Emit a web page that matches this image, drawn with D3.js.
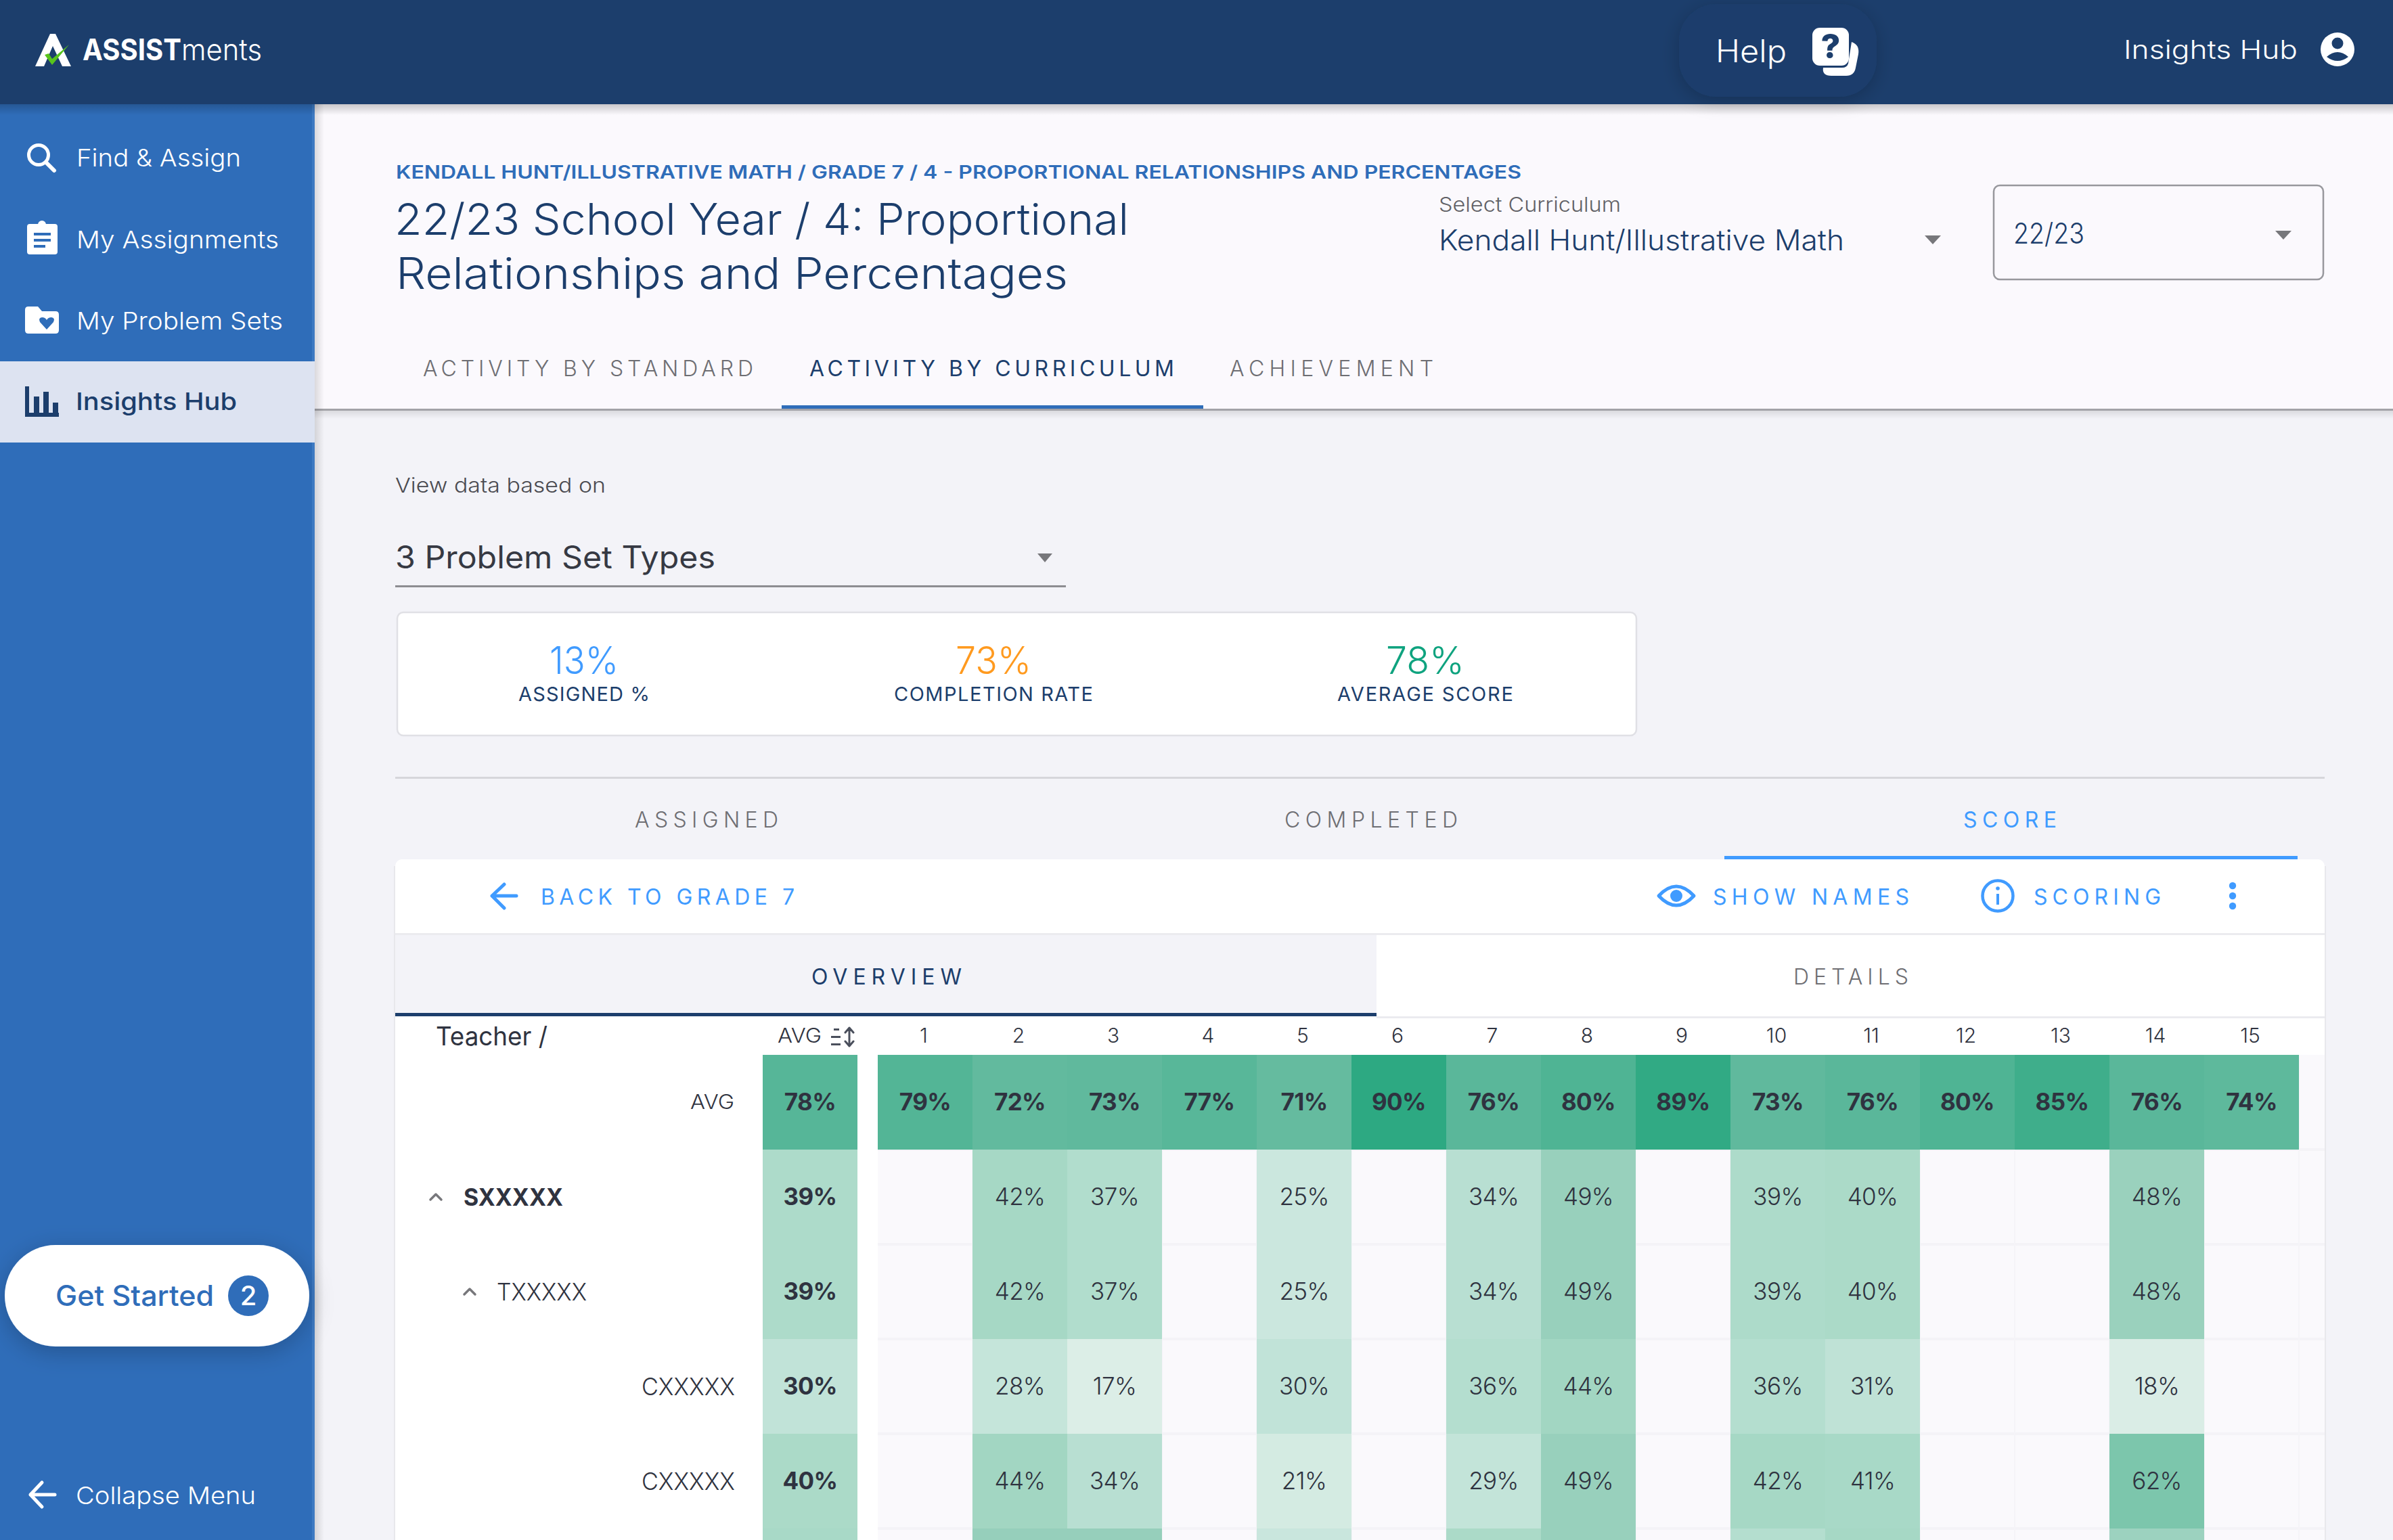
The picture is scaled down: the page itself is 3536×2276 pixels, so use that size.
<!DOCTYPE html>
<html><head><meta charset="utf-8">
<script src="https://cdn.jsdelivr.net/npm/d3@7/dist/d3.min.js"></script>
<style>html,body{margin:0;padding:0;background:#f3f3f8;overflow:hidden}svg{display:block;font-family:Inter,"Open Sans",sans-serif}</style>
</head><body><div id="c"></div>
<script>
// ---- chart data ----
const columnLabels = ["1","2","3","4","5","6","7","8","9","10","11","12","13","14","15"];
const rowKeys = ["AVG","SXXXXX","TXXXXX","CXXXXX-1","CXXXXX-2","NEXT"];
const rowLabels = ["AVG","SXXXXX","TXXXXX","CXXXXX","CXXXXX",""];
const avgColumn = [78,39,39,30,40,41];
const rowAvg  = [79,72,73,77,71,90,76,80,89,73,76,80,85,76,74];
const rowS    = [null,42,37,null,25,null,34,49,null,39,40,null,null,48,null];
const rowT    = [null,42,37,null,25,null,34,49,null,39,40,null,null,48,null];
const rowC1   = [null,28,17,null,30,null,36,44,null,36,31,null,null,18,null];
const rowC2   = [null,44,34,null,21,null,29,49,null,42,41,null,null,62,null];
const rowNext = [null,50,50,null,26,null,40,49,null,36,42,null,null,47,null];
const colorStops = [17,30,42,49,62,72,78,85,90];
const colorRange = ["#dceee7","#c1e3d8","#a6d8c5","#98d0bc","#7cc6ac","#62ba9e","#56b698","#3fae8b","#2da982"];
const kpiValues = ["13%","73%","78%"];
const kpiLabels = ["ASSIGNED %","COMPLETION RATE","AVERAGE SCORE"];

const W=3536,H=2276;
const NAVY="#1c3e6c",BLUE="#2f6db9",SKY="#409bff",INK="#2f3340",GREY="#6e6e73";
const svg=d3.select("#c").append("svg").attr("width",W).attr("height",H).attr("viewBox",[0,0,W,H]);
const defs=svg.append("defs");
function grad(id,x2,y2,a){const g=defs.append("linearGradient").attr("id",id).attr("x1",0).attr("y1",0).attr("x2",x2).attr("y2",y2);
  g.append("stop").attr("offset",0).attr("stop-color","#000").attr("stop-opacity",a);
  g.append("stop").attr("offset",1).attr("stop-color","#000").attr("stop-opacity",0);}
grad("sd",0,1,.2);grad("sr",1,0,.13);grad("sl",0,1,.1);
function shadow(id,dy,blur,a){const f=defs.append("filter").attr("id",id).attr("x","-20%").attr("y","-40%").attr("width","140%").attr("height","190%");
  f.append("feDropShadow").attr("dx",0).attr("dy",dy).attr("stdDeviation",blur).attr("flood-color","#000").attr("flood-opacity",a);}
shadow("pill",8,18,.22);shadow("help",6,14,.2);

const rect=(g,x,y,w,h,fill,rx=0)=>g.append("rect").attr("x",x).attr("y",y).attr("width",w).attr("height",h).attr("fill",fill).attr("rx",rx);
const pathD=(g,d,fill,stroke,sw=0)=>g.append("path").attr("d",d).attr("fill",fill||"none").attr("stroke",stroke||"none").attr("stroke-width",sw).attr("stroke-linecap","round").attr("stroke-linejoin","round");
function label(g,t,x0,x1,y,size,weight,color,adj="spacingAndGlyphs"){
  const n=g.append("text").attr("x",x0).attr("y",y).attr("font-size",size).attr("font-weight",weight).attr("fill",color).text(t);
  if(x1!=null)n.attr("textLength",x1-x0).attr("lengthAdjust",adj);
  return n;
}
const caret=(g,cx,y0,y1,hw)=>pathD(g,`M${cx-hw},${y0}L${cx+hw},${y0}L${cx},${y1}Z`,"#77777b");
const SP="spacing";

// ---- page backgrounds ----
rect(svg,0,0,W,H,"#f3f3f8");
rect(svg,465,154,W-465,450,"#fbf9fd");
rect(svg,465,604,W-465,3,"#a3a3a8");
rect(svg,465,607,W-465,12,"url(#sl)");

// ---- page head ----
const headG=svg.append("g");
label(headG,"KENDALL HUNT/ILLUSTRATIVE MATH / GRADE 7 / 4 - PROPORTIONAL RELATIONSHIPS AND PERCENTAGES",585,2248,264,27,600,BLUE);
label(headG,"22/23 School Year / 4: Proportional",583,1668,347,64,300,NAVY);
label(headG,"Relationships and Percentages",585,1578,427,64,300,NAVY);
label(headG,"Select Curriculum",2126,2395,313,30,300,"#626267");
label(headG,"Kendall Hunt/Illustrative Math",2126,2725,370,42,300,NAVY);
caret(headG,2856,348,361,12);
rect(headG,2946,274,487,139,"none",9).attr("stroke","#98989d").attr("stroke-width",2.5);
label(headG,"22/23",2975,3080,360,42,300,NAVY);
caret(headG,3374,341,354,12);
label(headG,"ACTIVITY BY STANDARD",625,1113,556,32,300,GREY,SP);
label(headG,"ACTIVITY BY CURRICULUM",1196,1735,556,32,400,NAVY,SP);
label(headG,"ACHIEVEMENT",1817,2118,556,32,300,GREY,SP);
rect(headG,1155,599,623,5,BLUE);

// ---- filter + KPI card ----
const kpiG=svg.append("g");
label(kpiG,"View data based on",584,895,728,30,300,"#4a4a50");
label(kpiG,"3 Problem Set Types",584,1057,840,46,400,"#363943");
caret(kpiG,1544,818,831,11);
rect(kpiG,584,865,991,3,"#8c8c91");
rect(kpiG,587,905,1831,182,"#fff",9).attr("stroke","#e0e0e5").attr("stroke-width",2.5);
const kpiX=[[812,914],[1412,1524],[2048,2164]],kpiC=[SKY,"#ff9a1f","#0fa37f"],kpiL=[[766,960],[1321,1615],[1976,2236]];
kpiValues.forEach((t,i)=>label(kpiG,t,kpiX[i][0],kpiX[i][1],996,56,300,kpiC[i]));
kpiLabels.forEach((t,i)=>label(kpiG,t,kpiL[i][0],kpiL[i][1],1036,29,400,NAVY,SP));

// ---- section tabs ----
const tabsG=svg.append("g");
rect(tabsG,584,1148,2851,3,"#d6d6db");
label(tabsG,"ASSIGNED",938,1150,1223,32,300,GREY,SP);
label(tabsG,"COMPLETED",1898,2154,1223,32,300,GREY,SP);
label(tabsG,"SCORE",2901,3039,1223,32,400,SKY,SP);
rect(tabsG,2548,1265,847,5,SKY);

// ---- card ----
const cardG=svg.append("g");
rect(cardG,584,1270,2851,1020,"#fff",10);
rect(cardG,3435,1280,2,1000,"#e8e8ec");rect(cardG,582,1280,2,1000,"#e8e8ec");
pathD(cardG,"M727,1324H763M745,1307L727,1324L745,1342",null,SKY,5);
label(cardG,"BACK TO GRADE 7",799,1174,1337,32,400,SKY,SP);
pathD(cardG,"M2451,1324Q2477,1296 2503,1324Q2477,1352 2451,1324Z",null,SKY,5);
cardG.append("circle").attr("cx",2477).attr("cy",1324).attr("r",9).attr("fill",SKY);
label(cardG,"SHOW NAMES",2531,2821,1337,32,400,SKY,SP);
cardG.append("circle").attr("cx",2952).attr("cy",1324).attr("r",22.5).attr("fill","none").attr("stroke",SKY).attr("stroke-width",4.5);
rect(cardG,2950,1321,4,16,SKY);cardG.append("circle").attr("cx",2952).attr("cy",1313).attr("r",2.8).attr("fill",SKY);
label(cardG,"SCORING",3005,3193,1337,32,400,SKY,SP);
[1309,1324,1339].forEach(y=>cardG.append("circle").attr("cx",3299).attr("cy",y).attr("r",5.2).attr("fill",SKY));
rect(cardG,584,1379,2851,3,"#ebebef");
rect(cardG,584,1382,1450,115,"#f3f3f8");
rect(cardG,584,1497,1450,5,NAVY);
rect(cardG,2034,1502,1401,3,"#ebebef");
label(cardG,"OVERVIEW",1199,1421,1455,32,400,NAVY,SP);
label(cardG,"DETAILS",2650,2820,1455,32,300,GREY,SP);

// ---- heat-map table ----
const rowsData=[rowAvg,rowS,rowT,rowC1,rowC2,rowNext];
const xCol=d3.scaleBand().domain(columnLabels).range([1297,3397]);
const xAvg=d3.scaleBand().domain(["AVG"]).range([1127,1267]);
const yRow=d3.scaleBand().domain(rowKeys).range([1559,2399]);
const color=d3.scaleLinear().domain(colorStops).range(colorRange);
const tbl=svg.append("g");
const cells=rowsData.flatMap((r,ri)=>r.map((v,ci)=>({row:rowKeys[ri],ri,col:columnLabels[ci],v})));

// empty grid behind the values
rect(tbl,xCol.range()[0],yRow("SXXXXX"),3435-1297,H-yRow("SXXXXX"),"#faf9fc");
rect(tbl,xCol.range()[1],yRow("AVG"),38,140,"#faf9fc");
tbl.append("g").selectAll("rect").data(rowKeys).join("rect")
  .attr("x",1297).attr("y",d=>yRow(d)+yRow.step()-2).attr("width",3435-1297).attr("height",4).attr("fill","#f4f3f7");
tbl.append("g").selectAll("rect").data(columnLabels).join("rect")
  .attr("x",d=>xCol(d)+xCol.bandwidth()-1).attr("y",1559).attr("width",2).attr("height",H-1559).attr("fill","#f5f4f8");

// filled cells
tbl.append("g").selectAll("rect").data(cells.filter(d=>d.v!=null)).join("rect")
  .attr("x",d=>xCol(d.col)).attr("y",d=>yRow(d.row)).attr("width",xCol.bandwidth()).attr("height",yRow.bandwidth()).attr("fill",d=>color(d.v));
tbl.append("g").selectAll("rect").data(rowKeys).join("rect")
  .attr("x",xAvg("AVG")).attr("y",d=>yRow(d)).attr("width",xAvg.bandwidth()).attr("height",yRow.bandwidth()).attr("fill",(d,i)=>color(avgColumn[i]));

// cell values
const vis=rowKeys.slice(0,5);
tbl.append("g").attr("text-anchor","middle").selectAll("text").data(cells.filter(d=>d.v!=null&&d.ri<5)).join("text")
  .attr("x",d=>xCol(d.col)+xCol.bandwidth()/2).attr("y",d=>yRow(d.row)+82)
  .attr("font-size",35).attr("font-weight",d=>d.ri===0?700:300).attr("letter-spacing",-.6).attr("fill",INK).text(d=>d.v+"%");
tbl.append("g").attr("text-anchor","middle").selectAll("text").data(vis).join("text")
  .attr("x",xAvg("AVG")+xAvg.bandwidth()/2).attr("y",d=>yRow(d)+82)
  .attr("font-size",35).attr("font-weight",700).attr("letter-spacing",-.6).attr("fill",INK).text((d,i)=>avgColumn[i]+"%");

// column axis
const axis=d3.axisTop(xCol).tickSize(0).tickPadding(0);
const ax=tbl.append("g").attr("transform","translate(-2,1541)").call(axis);
ax.select(".domain").remove();
ax.selectAll("text").attr("font-family","Inter").attr("font-size",30).attr("font-weight",300).attr("fill",INK).attr("dy",0);

// row + column headers
label(tbl,"Teacher /",644,809,1545,38,400,INK);
label(tbl,"AVG",1149,1214,1541,30,300,INK);
rect(tbl,1232,1520,8,3,"#4a4f5c");rect(tbl,1228,1531,14,3,"#4a4f5c");rect(tbl,1228,1542,14,3,"#4a4f5c");
pathD(tbl,"M1255,1521V1543M1249,1526L1255,1519L1261,1526M1249,1539L1255,1546L1261,1539",null,"#4a4f5c",3);
label(tbl,rowLabels[0],1020,1085,yRow("AVG")+80,30,300,INK);
label(tbl,rowLabels[1],685,832,yRow("SXXXXX")+83,35,700,INK);
label(tbl,rowLabels[2],734,867,yRow("TXXXXX")+83,35,300,INK);
label(tbl,rowLabels[3],948,1086,yRow("CXXXXX-1")+83,35,300,INK);
label(tbl,rowLabels[4],948,1086,yRow("CXXXXX-2")+83,35,300,INK);
pathD(tbl,"M636,1773L644,1765L652,1773",null,"#77777b",3.5);
pathD(tbl,"M686,1913L694,1905L702,1913",null,"#77777b",3.5);

// ---- sidebar ----
const sideG=svg.append("g");
rect(sideG,465,154,14,H-154,"url(#sr)");
rect(sideG,0,154,465,H-154,BLUE);
rect(sideG,461,154,4,H-154,"#3e7ac2");
rect(sideG,0,534,465,120,"#dde3f1");
label(sideG,"Find & Assign",113,356,246,36,300,"#fff");
label(sideG,"My Assignments",113,412,367,36,300,"#fff");
label(sideG,"My Problem Sets",113,418,487,36,300,"#fff");
label(sideG,"Insights Hub",112,350,606,36,500,NAVY);
sideG.append("circle").attr("cx",57).attr("cy",229).attr("r",14.5).attr("fill","none").attr("stroke","#fff").attr("stroke-width",5);
pathD(sideG,"M68,240L80,252",null,"#fff",6);
rect(sideG,40,331,45,45,"#fff",4);sideG.append("circle").attr("cx",62).attr("cy",332).attr("r",6).attr("fill","#fff");
[[50,344,25],[50,353,25],[50,362,17]].forEach(d=>rect(sideG,d[0],d[1],d[2],4,BLUE));
pathD(sideG,"M37,458Q37,453 42,453H56L62,460H82Q87,460 87,465V488Q87,493 82,493H42Q37,493 37,488Z","#fff");
pathD(sideG,"M69,487L59,476Q56,470 62,469Q67,469 69,473Q71,469 76,469Q82,470 79,476Z",BLUE);
rect(sideG,37,571,6,45,NAVY);rect(sideG,37,610,50,6,NAVY);
rect(sideG,50,586,8,26,NAVY);rect(sideG,64,579,8,33,NAVY);rect(sideG,78,595,8,17,NAVY);

const gsG=sideG.append("g");
rect(gsG,7,1840,450,150,"#fff",75).attr("filter","url(#pill)");
label(gsG,"Get Started",82,316,1930,42,500,BLUE);
gsG.append("circle").attr("cx",367).attr("cy",1915).attr("r",30).attr("fill",BLUE);
gsG.append("text").attr("x",367).attr("y",1929).attr("text-anchor","middle").attr("font-size",40).attr("font-weight",500).attr("fill","#fff").text("2");
pathD(sideG,"M45,2209H81M62,2191L45,2209L62,2227",null,"#fff",5);
label(sideG,"Collapse Menu",112,378,2223,36,300,"#fff");

// ---- top bar ----
const topG=svg.append("g");
rect(topG,0,154,W,16,"url(#sd)");
rect(topG,0,0,W,154,NAVY);
rect(topG,2481,6,292,137,NAVY,55).attr("filter","url(#help)");
pathD(topG,"M52,98L74,50H82L105,98H92L78,68L65,98Z","#fff");
pathD(topG,"M66,81L72,79L77,87L102,66L77,96Z","#58c41d");
label(topG,"ASSIST",122,268,89,44,700,"#fff");
label(topG,"ments",268,387,89,44,300,"#fff");
label(topG,"Help",2535,2640,92,46,300,"#fff");
pathD(topG,"M2736,62Q2748,66 2746,80L2742,100Q2740,112 2728,112H2706Q2692,112 2694,100L2722,100Q2729,100 2731,94Z","#fff");
rect(topG,2678,41,54,56,"#fff",11);
topG.append("text").attr("x",2705).attr("y",86).attr("text-anchor","middle").attr("font-size",50).attr("font-weight",800).attr("fill",NAVY).text("?");
label(topG,"Insights Hub",3138,3395,87,38,300,"#fff");
topG.append("circle").attr("cx",3454).attr("cy",73).attr("r",25).attr("fill","#fff");
topG.append("circle").attr("cx",3454).attr("cy",64).attr("r",8.5).attr("fill",NAVY);
pathD(topG,"M3438,84Q3454,70 3470,84Q3454,96 3438,84Z",NAVY);
</script></body></html>
